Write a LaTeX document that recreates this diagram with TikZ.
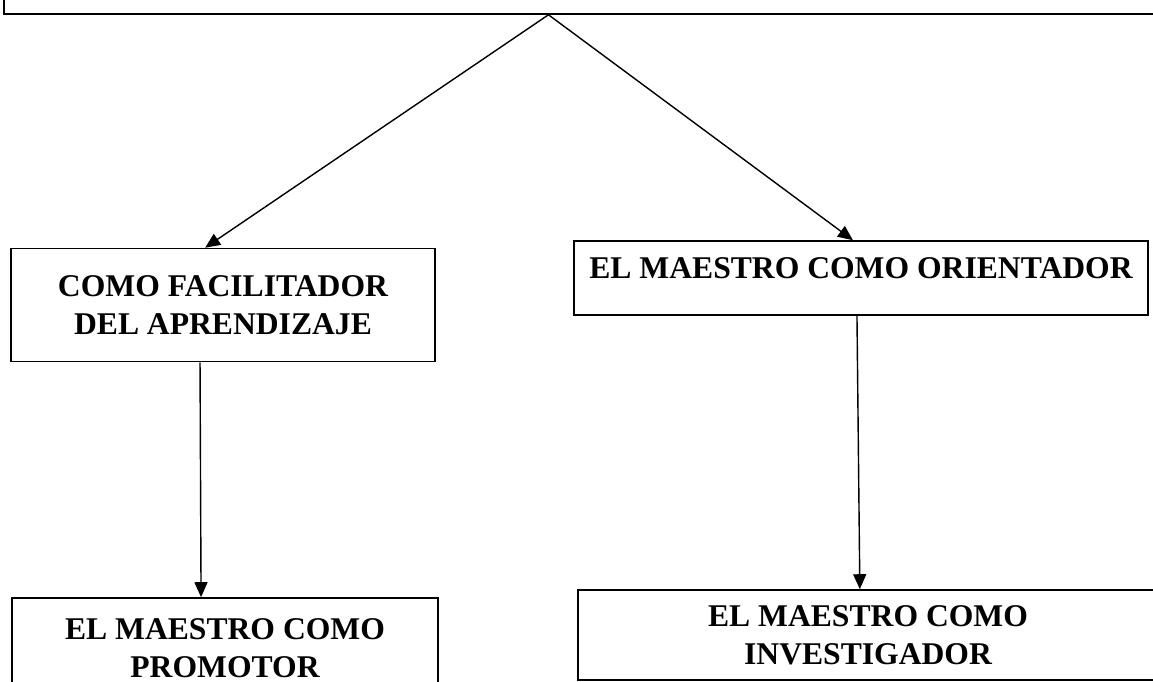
\documentclass[tikz,border=0pt]{standalone}
\usepackage{fontspec}
\setmainfont{Liberation Serif}
\usepackage{tikz}
\usetikzlibrary{calc}
\usetikzlibrary{arrows.meta}

\begin{document}
\begin{tikzpicture}[x=0.02cm,y=-0.02cm,
  caja/.style={draw,line width=0.9pt,rectangle,align=center,inner sep=0pt,
    font=\fontsize{18}{21.5}\selectfont\bfseries},
  flecha/.style={line width=0.8pt,-{Triangle[length=3mm,width=2.6mm]}}]

\useasboundingbox (0,0) rectangle (1153,682);

\node[caja,minimum width=23.22cm,minimum height=0.88cm] (raiz) at (584.5,-8) {};

\node[caja,minimum width=8.48cm,minimum height=2.26cm] (facil) at (223,305)
  {COMO FACILITADOR\\DEL APRENDIZAJE};
\node[caja,minimum width=11.48cm,minimum height=1.48cm,text depth=0.4cm] (orient) at (861,278)
  {EL MAESTRO COMO ORIENTADOR};

\node[caja,minimum width=8.52cm,minimum height=2.0cm] (promotor) at (225,648)
  {EL MAESTRO COMO\\PROMOTOR};
\node[caja,minimum width=11.6cm,minimum height=1.8cm] (investig) at (868,635)
  {EL MAESTRO COMO\\INVESTIGADOR};

\coordinate (vertice) at ($(raiz.south west)!0.469!(raiz.south east)$);

\draw[flecha] (vertice) -- ($(facil.north west)!0.458!(facil.north east)$);
\draw[flecha] (vertice) -- ($(orient.north west)!0.486!(orient.north east)$);

\draw[flecha] ($(facil.south west)!0.446!(facil.south east)$) -- ($(promotor.north west)!0.444!(promotor.north east)$);
\draw[flecha] ($(orient.south west)!0.493!(orient.south east)$) -- ($(investig.north west)!0.486!(investig.north east)$);

\end{tikzpicture}
\end{document}
